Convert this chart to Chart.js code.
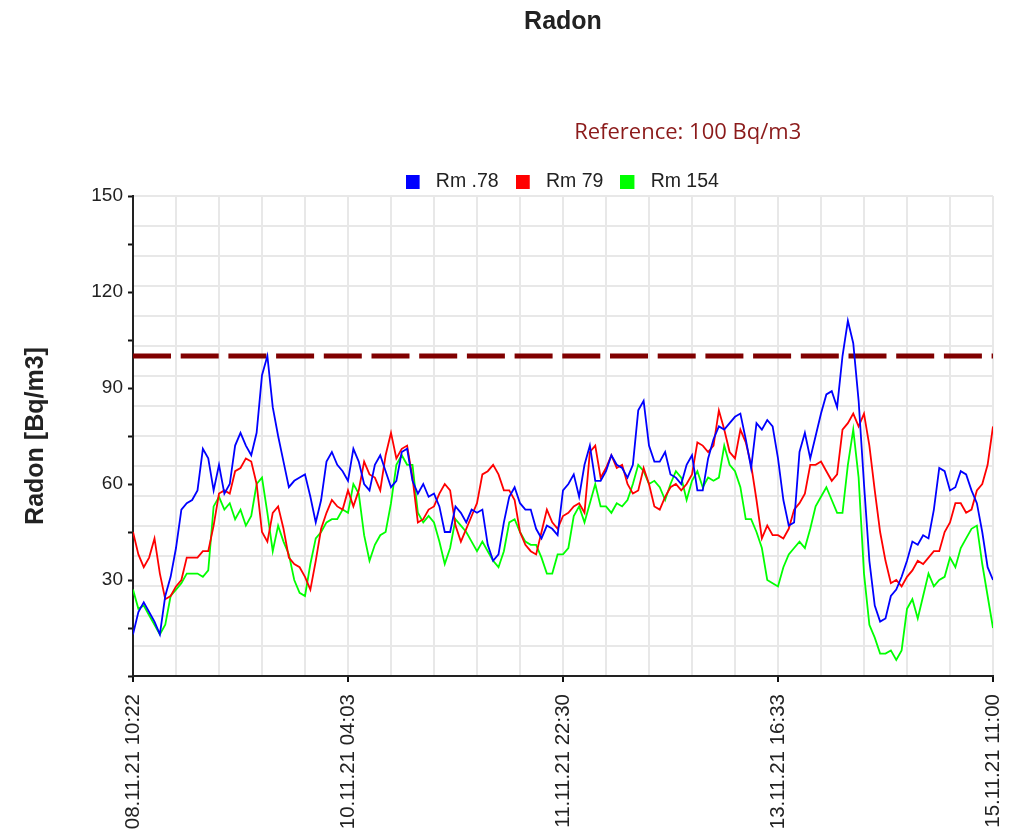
<!DOCTYPE html>
<html>
<head>
<meta charset="utf-8">
<script src="https://cdn.jsdelivr.net/npm/chart.js@4"></script>
<style>
html,body{margin:0;padding:0;background:#fff;overflow:hidden}
#wrap{width:1020px;height:833px}
</style>
</head>
<body>
<div id="wrap"><canvas id="c" width="1020" height="833"></canvas></div>
<script>
const chartTitle = 'Radon';
const referenceLabel = 'Reference: 100 Bq/m3';
const yAxisTitle = 'Radon [Bq/m3]';
const seriesNames = ['Rm .78', 'Rm 79', 'Rm 154'];
const seriesColors = ['#0000ff', '#ff0000', '#00ff00'];
const xTickLabels = ['08.11.21 10:22', '10.11.21 04:03', '11.11.21 22:30', '13.11.21 16:33', '15.11.21 11:00'];
const yTickLabels = [30, 60, 90, 120, 150];
const referenceLevel = 100;

const rm78 = [
13,20,23,20,17,13,25,31,40,52,
54,55,58,71,68,58,66,57,60,72,
76,72,69,76,94,100,84,75,67,59,
61,62,63,56,48,55,67,70,66,64,
61,71,67,60,58,66,69,64,59,61,
70,71,61,57,60,56,57,53,45,45,
53,51,48,52,51,52,41,36,38,48,
56,59,54,52,52,46,43,47,46,44,
58,60,63,56,66,72,61,61,64,69,
66,65,62,66,83,86,72,67,67,70,
63,62,60,66,69,58,58,68,74,78,
77,79,81,82,74,65,79,77,80,78,
68,55,47,48,70,76,68,75,82,88,
89,84,100,111,104,86,60,36,22,17,
18,25,27,31,36,42,41,44,43,52,
65,64,58,59,64,63,58,54,45,34,
30
];

const rm79 = [
45,38,34,37,43,32,24,25,28,30,
37,37,37,39,39,47,57,58,57,64,
65,68,67,60,45,42,51,53,46,37,
35,34,31,27,36,46,51,55,53,52,
58,53,58,67,63,62,58,69,76,68,
71,72,62,48,49,52,53,57,60,58,
47,42,46,50,54,63,64,66,63,58,
58,55,45,41,39,38,45,52,48,46,
50,51,53,54,51,70,72,62,65,69,
65,66,60,57,58,65,60,53,52,56,
59,60,58,60,63,73,72,70,72,83,
77,70,68,77,73,66,55,43,47,44,
44,43,46,52,54,57,66,66,67,64,
61,63,77,79,82,78,82,72,58,45,
36,29,30,28,31,33,36,35,37,39,
39,45,48,54,54,51,52,58,60,66,
78
];

const rm154 = [
27,21,22,19,16,13,16,25,27,29,
32,32,32,31,33,53,56,52,54,49,
52,47,50,60,62,51,39,47,42,38,
30,26,25,35,43,45,48,49,49,52,
51,60,57,44,36,41,44,45,54,66,
69,66,66,51,48,50,48,42,35,40,
49,47,45,42,39,42,39,36,34,39,
48,49,45,42,41,41,37,32,32,38,
38,40,50,53,48,54,60,53,53,51,
54,53,55,60,66,64,60,61,59,55,
60,64,62,55,61,64,59,62,61,62,
72,66,64,59,49,49,45,40,30,29,
28,34,38,40,42,40,46,53,56,59,
55,51,51,66,77,62,32,16,12,7,
7,8,5,8,21,24,18,25,32,28,
30,31,37,34,40,43,46,47,35,25,
15
];

const lastIndex = rm78.length - 1;
const samplesPerLabel = lastIndex / (xTickLabels.length - 1);
const toPoints = arr => arr.map((v, i) => ({x: i, y: v}));

// legend marker: a square drawn at the left of a wider transparent canvas (adds space before the label text)
function legendMarker(color) {
  const c = document.createElement('canvas');
  c.width = 22; c.height = 14;
  const g = c.getContext('2d');
  g.fillStyle = color;
  g.fillRect(0, 0, 14, 14);
  return c;
}

const recenter = {
  id: 'recenter',
  afterLayout(chart) {
    const ca = chart.chartArea;
    const cx = (ca.left + ca.right) / 2;
    const shift = (box, target, dy) => {
      if (!box) return;
      const dx = target - (box.left + box.right) / 2;
      box.left += dx; box.right += dx;
      if (dy) { box.top += dy; box.bottom += dy; }
    };
    shift(chart.titleBlock, cx, 0);
    shift(chart.legend, cx, 5.5);
    const sub = chart.boxes.find(b => b !== chart.titleBlock && b !== chart.legend && b.options && b.options.text === referenceLabel);
    shift(sub, ca.left + 0.645 * (ca.right - ca.left), 0);
  }
};

Chart.defaults.font.family = '"Liberation Sans", Arial, sans-serif';
Chart.defaults.color = '#222';

const seriesData = [rm78, rm79, rm154];

new Chart(document.getElementById('c'), {
  type: 'line',
  data: {
    datasets: seriesData.map((arr, k) => ({
      label: seriesNames[k], data: toPoints(arr),
      borderColor: seriesColors[k], backgroundColor: seriesColors[k],
      borderWidth: 1.8, pointRadius: 0, tension: 0,
      pointStyle: legendMarker(seriesColors[k])
    })).concat([
      {label: referenceLabel, data: [{x: 0, y: referenceLevel}, {x: lastIndex, y: referenceLevel}],
       borderColor: '#800000', borderWidth: 5, borderDash: [38, 9.7], pointRadius: 0}
    ])
  },
  options: {
    responsive: false,
    animation: false,
    devicePixelRatio: 1,
    layout: {padding: {left: 10, right: 27, top: 0, bottom: 0}},
    plugins: {
      title: {display: true, text: chartTitle, font: {size: 25, weight: 'bold'}, color: '#222', padding: {top: 7, bottom: 0}},
      subtitle: {display: true, text: referenceLabel, font: {family: '"Open Sans", sans-serif', size: 22}, color: '#8b1a1a', padding: {top: 82.8, bottom: 1.8}},
      legend: {
        display: true,
        labels: {
          filter: item => item.datasetIndex < 3,
          usePointStyle: true,
          boxWidth: 19, boxHeight: 13, padding: 18.5,
          font: {size: 19.5}, color: '#222'
        }
      },
      tooltip: {enabled: false}
    },
    scales: {
      x: {
        type: 'linear', min: 0, max: lastIndex,
        ticks: {
          stepSize: samplesPerLabel / 5, autoSkip: false, maxRotation: 90, minRotation: 90, padding: 12,
          font: {size: 20.5}, color: '#222',
          callback: v => (v % samplesPerLabel === 0 ? xTickLabels[v / samplesPerLabel] : '')
        },
        grid: {
          color: ctx => (ctx.tick && ctx.tick.value === 0 ? 'rgba(0,0,0,0)' : '#e8e8e8'),
          lineWidth: 2,
          tickColor: ctx => (ctx.tick && ctx.tick.value % samplesPerLabel === 0 ? '#111' : 'rgba(0,0,0,0)'),
          tickLength: 6, tickWidth: 2
        },
        border: {color: '#222', width: 2},
        afterFit: s => { s.height = 157; s.paddingLeft = 0; s.paddingRight = 0; }
      },
      y: {
        type: 'linear', position: 'left', min: 0, max: 150,
        ticks: {stepSize: 15, padding: 5, font: {size: 19}, color: '#222', callback: v => (yTickLabels.includes(v) ? v : '')},
        grid: {drawOnChartArea: false, tickLength: 5, tickColor: '#111', tickWidth: 2},
        border: {color: '#222', width: 2},
        title: {display: true, text: yAxisTitle, font: {size: 25, weight: 'bold'}, color: '#222', padding: {top: 11, bottom: 0}},
        afterFit: s => { s.width = 123; }
      },
      yGrid: {
        type: 'linear', position: 'right', min: 0, max: 150,
        ticks: {display: false, stepSize: 150 / 16},
        grid: {color: ctx => (ctx.tick && ctx.tick.value === 0 ? 'rgba(0,0,0,0)' : '#e8e8e8'), lineWidth: 2, drawTicks: false},
        border: {display: false}
      }
    }
  },
  plugins: [recenter]
});
</script>
</body>
</html>
